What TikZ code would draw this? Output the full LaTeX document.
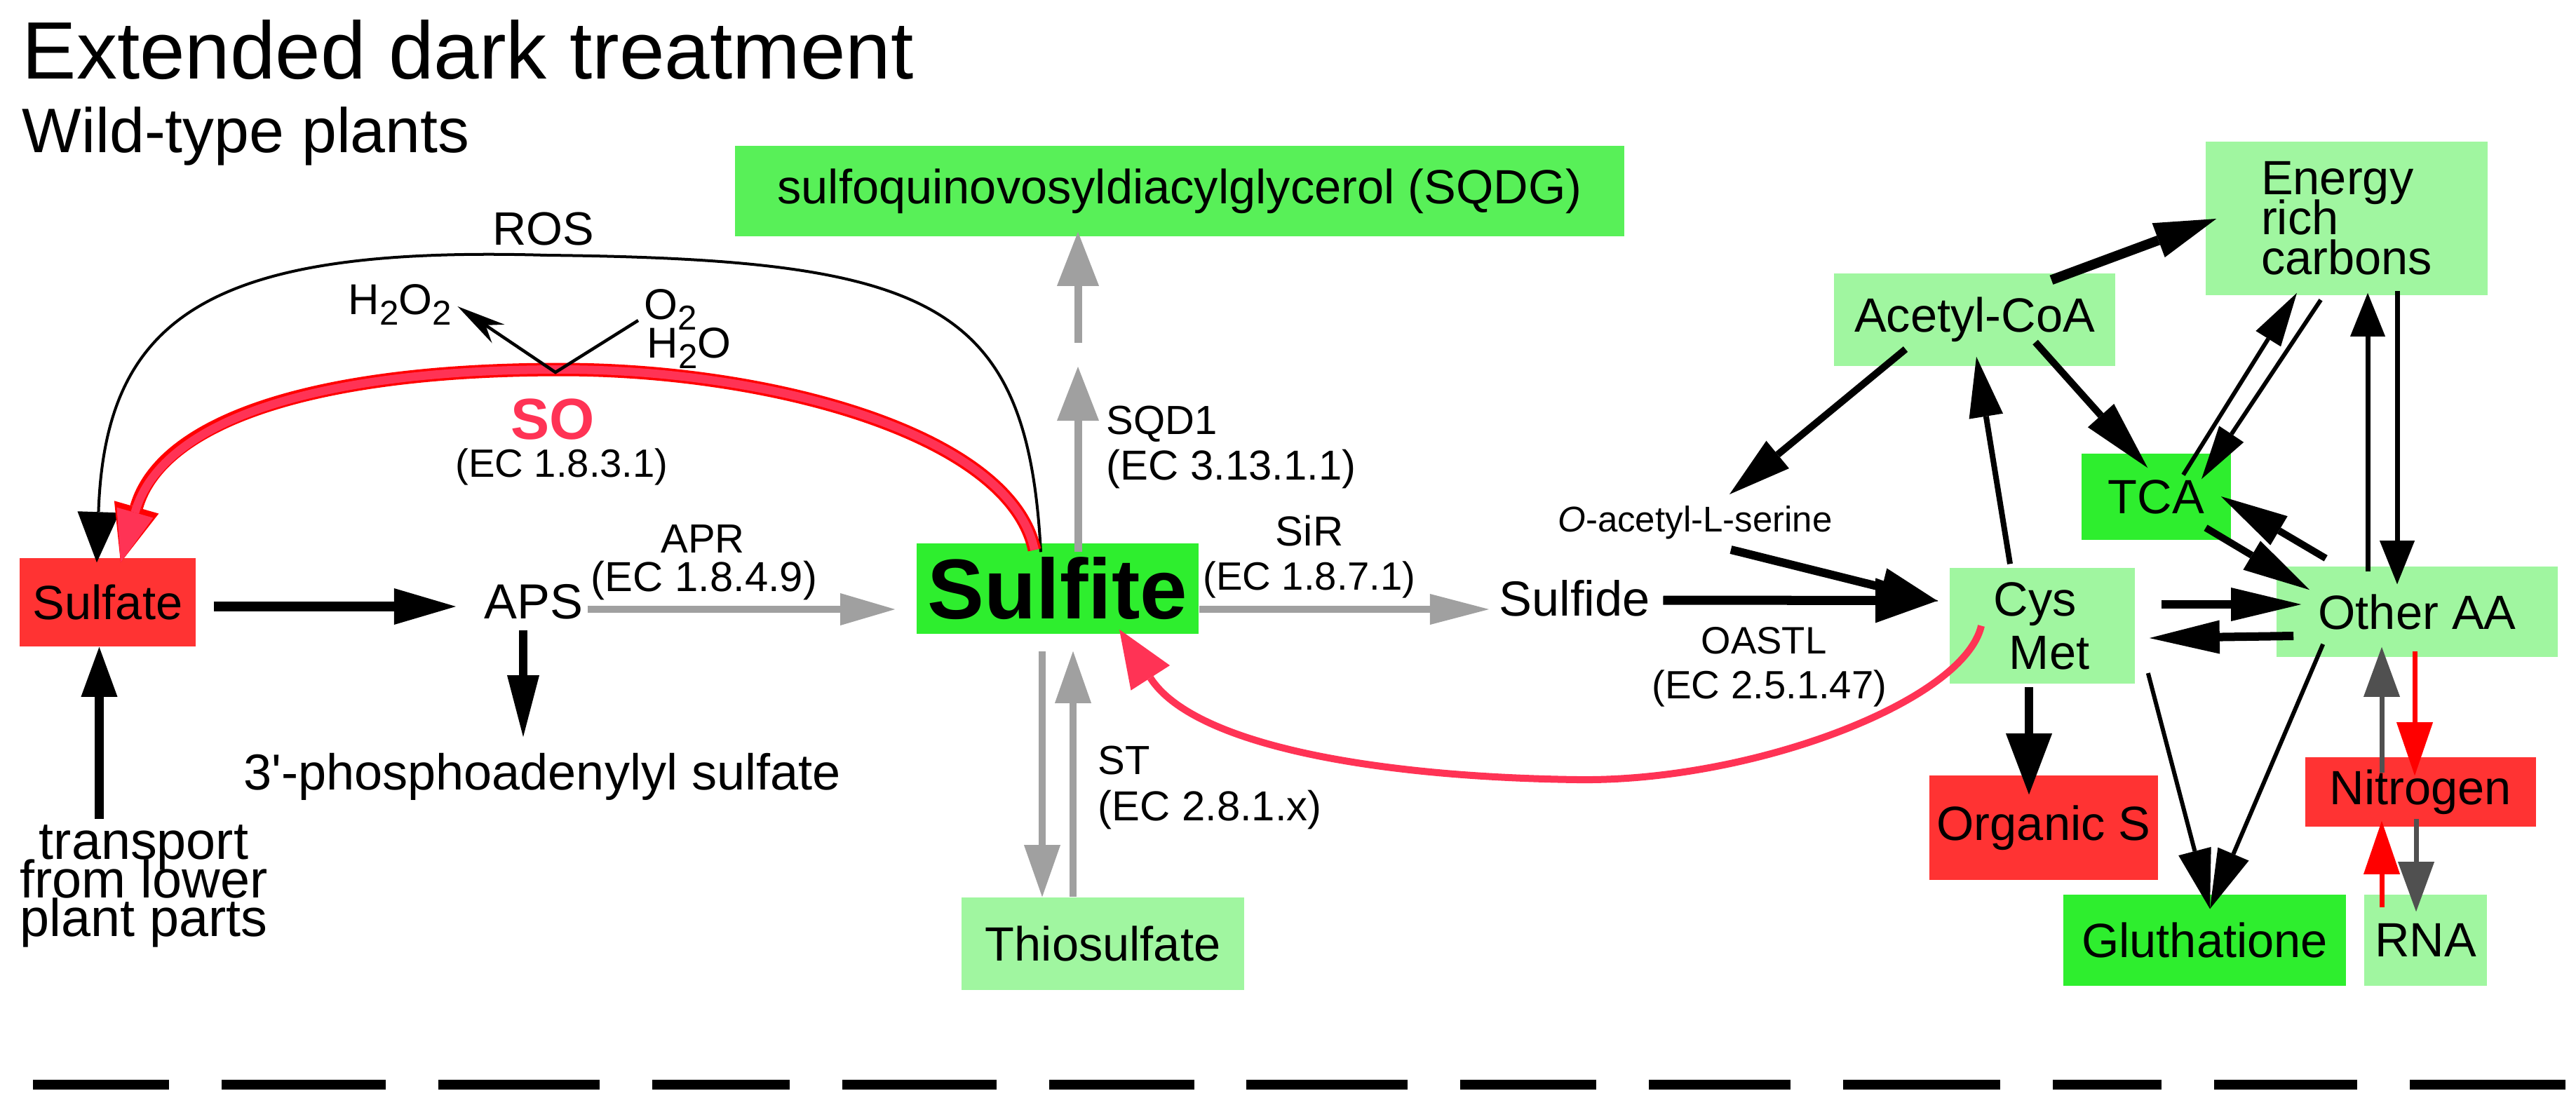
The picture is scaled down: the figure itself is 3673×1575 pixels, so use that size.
\documentclass[tikz,border=0pt]{standalone}
\usepackage{fontspec}
\setmainfont{Liberation Sans}
\usetikzlibrary{arrows.meta,calc}
\lineskiplimit=-100pt
\definecolor{lgreen}{RGB}{160,246,160}
\definecolor{bgreen}{RGB}{46,238,46}
\definecolor{sqgreen}{RGB}{88,240,88}
\definecolor{boxred}{RGB}{255,51,51}
\definecolor{sopink}{RGB}{255,51,85}
\definecolor{lgray}{RGB}{160,160,160}
\definecolor{dgray}{RGB}{80,80,80}
\newcommand\subs[1]{\raisebox{-4.5pt}{\fontsize{14}{14}\selectfont #1}}
\tikzset{
  bx/.style={rectangle, inner sep=0pt, align=center, font=\fontsize{19.5}{23.4}\selectfont},
  txt/.style={inner sep=0pt},
  arr/.style n args={4}{draw=#1, line width=#2, -{Triangle[length=#3,width=#4,line width=0pt]}},
}
\begin{document}
\begin{tikzpicture}[x=0.01cm,y=-0.01cm]
\useasboundingbox (0,0) rectangle (3673,1575);

% titles
\node[txt, anchor=base west, font=\fontsize{33}{40}\selectfont] (title) at (31,112) {Extended dark treatment};
\node[txt, anchor=base west, font=\fontsize{25.5}{30}\selectfont] (subtitle) at (31,217) {Wild-type plants};

% boxes
\node[bx, fill=sqgreen, minimum width=12.68cm, minimum height=1.29cm] (sqdg) at (1682,272.5) {sulfoquinovosyldiacylglycerol (SQDG)};
\node[bx, fill=boxred, minimum width=2.51cm, minimum height=1.26cm] (sulfate) at (153.5,859) {Sulfate};
\node[bx, fill=bgreen, minimum width=4.02cm, minimum height=1.29cm, font=\fontsize{34.5}{40}\selectfont\bfseries] (sulfite) at (1508,839.5) {Sulfite};
\node[bx, fill=lgreen, minimum width=4.03cm, minimum height=1.32cm] (thio) at (1572.5,1346) {Thiosulfate};
\node[bx, fill=lgreen, minimum width=4.01cm, minimum height=1.32cm] (acetyl) at (2815.5,456) {Acetyl-CoA};
\node[bx, fill=lgreen, minimum width=4.02cm, minimum height=2.19cm, align=left, font=\fontsize{19.5}{16.2}\selectfont] (energy) at (3346,311.5) {Energy\\rich\\carbons};
\node[bx, fill=bgreen, minimum width=2.13cm, minimum height=1.23cm] (tca) at (3074.5,708.5) {TCA};
\node[bx, fill=lgreen, minimum width=2.64cm, minimum height=1.65cm, font=\fontsize{19.5}{21.6}\selectfont] (cys) at (2912,892.5) {Cys\kern0.2cm\\\kern0.2cm Met};
\node[bx, fill=lgreen, minimum width=4.01cm, minimum height=1.29cm] (other) at (3446.5,872.5) {Other AA};
\node[bx, fill=boxred, minimum width=3.26cm, minimum height=1.49cm] (orgs) at (2914,1180.5) {Organic S};
\node[bx, fill=boxred, minimum width=3.29cm, minimum height=0.99cm] (nitro) at (3451.5,1129.5) {Nitrogen};
\node[bx, fill=bgreen, minimum width=4.03cm, minimum height=1.30cm] (gluth) at (3143.5,1341) {Gluthatione};
\node[bx, fill=lgreen, minimum width=1.75cm, minimum height=1.30cm] (rna) at (3458.5,1341) {RNA};

% free texts
\node[txt, anchor=base, font=\fontsize{20}{24}\selectfont] (aps) at (761,882) {APS};
\node[txt, anchor=base, font=\fontsize{20.5}{24}\selectfont] (phos) at (773,1126) {3\textquotesingle-phosphoadenylyl sulfate};
\node[txt, align=center, font=\fontsize{21.5}{15.6}\selectfont] (trans) at (205,1264) {transport\\from lower\\plant parts};
\node[txt, anchor=base, font=\fontsize{19}{23}\selectfont] (ros) at (775,349) {ROS};
\node[txt, anchor=base west, font=\fontsize{17.5}{21}\selectfont] (h2o2) at (496,448) {H\subs{2}O\subs{2}};
\node[txt, anchor=base west, font=\fontsize{17.5}{21}\selectfont] (o2) at (918,455) {O\subs{2}};
\node[txt, anchor=base west, font=\fontsize{17.5}{21}\selectfont] (h2o) at (922,510) {H\subs{2}O};
\node[txt, anchor=base, font=\fontsize{23.5}{28}\selectfont\bfseries, text=sopink] (so) at (788,626) {SO};
\node[txt, anchor=base, font=\fontsize{16}{19}\selectfont] (soec) at (801,680) {(EC 1.8.3.1)};
\node[txt, anchor=base, font=\fontsize{16.5}{20}\selectfont] (apr) at (1002,788) {APR};
\node[txt, anchor=base, font=\fontsize{17}{20}\selectfont] (aprec) at (1004,843) {(EC 1.8.4.9)};
\node[txt, anchor=base west, font=\fontsize{16.5}{20}\selectfont] (sqd) at (1577,619) {SQD1};
\node[txt, anchor=base west, font=\fontsize{17}{20}\selectfont] (sqdec) at (1577,684) {(EC 3.13.1.1)};
\node[txt, anchor=base, font=\fontsize{17}{20}\selectfont] (sir) at (1867,778) {SiR};
\node[txt, anchor=base, font=\fontsize{16}{19}\selectfont] (sirec) at (1867,841) {(EC 1.8.7.1)};
\node[txt, anchor=base west, font=\fontsize{16.5}{20}\selectfont] (st) at (1565,1104) {ST};
\node[txt, anchor=base west, font=\fontsize{17}{20}\selectfont] (stec) at (1565,1170) {(EC 2.8.1.x)};
\node[txt, anchor=base west, font=\fontsize{20}{24}\selectfont] (sulfide) at (2137,878) {Sulfide};
\node[txt, anchor=base, font=\fontsize{14.5}{17}\selectfont] (oas) at (2417,758) {\textit{O}-acetyl-L-serine};
\node[txt, anchor=base, font=\fontsize{15.5}{19}\selectfont] (oastl) at (2515,932) {OASTL};
\node[txt, anchor=base, font=\fontsize{16}{19}\selectfont] (oastlec) at (2523,996) {(EC 2.5.1.47)};

% bottom dashed separator
\foreach \a/\b in {47/241, 316/550, 625/855, 930/1126, 1201/1421, 1496/1703, 1777/2007, 2082/2276, 2351/2553, 2628/2852, 2927/3082, 3157/3361, 3436/3658}
  \draw[line width=0.14cm] (\a,1547) -- (\b,1547);

% ROS
\draw[black, line width=0.04cm, -{Triangle[length=0.72cm,width=0.6cm,line width=0pt]}]
  ($(sulfite.north)+(-24,13)$) .. controls (1465,430) and (1330,370) .. (780,364)
  .. controls (300,350) and (150,450) .. ($(sulfate.north)+(-15.5,7)$);

% SO
\draw[red, line width=0.19cm, -{Triangle[length=0.82cm,width=0.66cm,line width=0pt]}]
  ($(sulfite.north)+(-33,10)$) .. controls (1440,620) and (1100,527) .. (800,527)
  .. controls (450,527) and (230,600) .. ($(sulfate.north)+(18.5,7)$);
\draw[sopink, line width=0.12cm, -{Triangle[length=0.74cm,width=0.54cm,line width=0pt]}]
  ($(sulfite.north)+(-33,10)$) .. controls (1440,620) and (1100,527) .. (800,527)
  .. controls (450,527) and (230,600) .. ($(sulfate.north)+(18.5,7)$);

% H2O2 / O2 V
\coordinate (vtx) at (792,531);
\draw[black, line width=0.045cm, -{Stealth[length=0.7cm,width=0.32cm,inset=0.22cm,line width=0pt]}]
  ($(o2.base west)+(-8,2)$) -- (vtx) -- ($(h2o2.base east)+(8,-11)$);

% main line
\draw[arr={black}{0.14cm}{0.88cm}{0.52cm}] ($(sulfate.east)+(25,6)$) -- ($(sulfate.east -| aps.west)+(-40,6)$);
\draw[arr={lgray}{0.1cm}{0.78cm}{0.46cm}] ($(aps.east |- sulfite.west)+(6,29.5)$) -- ($(sulfite.west)+(-30,29.5)$);
\draw[arr={black}{0.12cm}{0.88cm}{0.46cm}] ($(aps.south)+(-15,16)$) -- ($(aps.south |- phos.north)+(-15,-22)$);
\draw[arr={black}{0.12cm}{0.71cm}{0.52cm}] ($(trans.north -| sulfate.south)+(-12,-8)$) -- ($(sulfate.south)+(-12,0)$);

% SQDG
\coordinate (sqgap) at (1537,506);
\draw[arr={lgray}{0.11cm}{0.77cm}{0.6cm}] ($(sulfite.north)+(29,13)$) -- ($(sqgap)+(0,17)$);
\draw[arr={lgray}{0.11cm}{0.77cm}{0.6cm}] ($(sqgap)+(0,-17)$) -- ($(sqdg.south -| sqgap)+(0,-7)$);

% SiR, ST
\draw[arr={lgray}{0.1cm}{0.84cm}{0.44cm}] ($(sulfite.east)+(0,29.5)$) -- ($(sulfide.base west)+(-14,-9)$);
\draw[arr={lgray}{0.1cm}{0.74cm}{0.52cm}] ($(sulfite.south)+(-22,24)$) -- ($(thio.north)+(-86.5,0)$);
\draw[arr={lgray}{0.1cm}{0.74cm}{0.52cm}] ($(thio.north)+(-42.5,0)$) -- ($(sulfite.south)+(22,24)$);

% Cys -> Sulfite (pink)
\draw[sopink, line width=0.1cm, -{Triangle[length=0.82cm,width=0.66cm,line width=0pt]}]
  ($(cys.center)+(-87,0)$) .. controls (2800,1000) and (2500,1115) .. (2250,1112)
  .. controls (1950,1108) and (1700,1060) .. ($(sulfite.south)+(88,-7)$);

% right network
\draw[arr={black}{0.13cm}{0.89cm}{0.64cm}] ($(sulfide.base east)+(18,-22)$) -- ($(cys.west)+(-16,-36)$);
\draw[arr={black}{0.12cm}{0.82cm}{0.56cm}] ($(oas.base)+(51,26)$) -- ($(cys.west)+(-16,-35)$);
\draw[arr={black}{0.1cm}{0.89cm}{0.51cm}] ($(acetyl.center)+(-98.5,42)$) -- ($(oas.base)+(49,-53)$);
\draw[arr={black}{0.08cm}{0.86cm}{0.49cm}] ($(cys.north)+(-46,-5)$) -- ($(acetyl.south)+(2.5,-14)$);
\draw[arr={black}{0.1cm}{1.0cm}{0.5cm}] ($(acetyl.center)+(86.5,32)$) -- ($(tca.north west)+(95,21)$);
\draw[arr={black}{0.14cm}{0.88cm}{0.52cm}] ($(acetyl.north)+(109.5,10)$) -- ($(energy.west)+(16,0.5)$);
\draw[arr={black}{0.06cm}{0.77cm}{0.42cm}] ($(tca.north)+(38.5,31)$) -- ($(energy.south)+(-71,-4)$);
\draw[arr={black}{0.06cm}{0.77cm}{0.42cm}] ($(energy.south)+(-37,6)$) -- ($(tca.north)+(64.5,37)$);
\draw[arr={black}{0.07cm}{0.62cm}{0.5cm}] ($(other.north)+(-70.5,8)$) -- ($(energy.south)+(30,-4)$);
\draw[arr={black}{0.07cm}{0.62cm}{0.5cm}] ($(energy.south)+(72,-7)$) -- ($(other.north)+(-28.5,26)$);
\draw[arr={black}{0.1cm}{0.96cm}{0.48cm}] ($(tca.south)+(70.5,-18)$) -- ($(other.north west)+(48,34)$);
\draw[arr={black}{0.1cm}{0.96cm}{0.48cm}] ($(other.north west)+(71,-11)$) -- ($(tca.east)+(-15,-0.5)$);
\draw[arr={black}{0.12cm}{1.0cm}{0.48cm}] ($(cys.east)+(37,-30.5)$) -- ($(other.west)+(36,-10.5)$);
\draw[arr={black}{0.12cm}{1.0cm}{0.48cm}] ($(other.west)+(25,34.5)$) -- ($(cys.east)+(20,17.5)$);
\draw[arr={black}{0.12cm}{0.87cm}{0.66cm}] ($(cys.south)+(-19,4)$) -- ($(orgs.north)+(-21,28)$);
\draw[arr={black}{0.06cm}{0.85cm}{0.48cm}] ($(cys.east)+(18,67.5)$) -- ($(gluth.north)+(7.5,21)$);
\draw[arr={black}{0.06cm}{0.85cm}{0.48cm}] ($(other.south west)+(67,-19)$) -- ($(gluth.north)+(7.5,21)$);
\draw[arr={red}{0.07cm}{0.76cm}{0.52cm}] ($(other.south)+(-3.5,-9)$) -- ($(nitro.north)+(-8.5,27)$);
\draw[arr={dgray}{0.07cm}{0.71cm}{0.52cm}] ($(nitro.north)+(-55.5,23)$) -- ($(other.south)+(-50.5,-15)$);
\draw[arr={red}{0.07cm}{0.76cm}{0.52cm}] ($(rna.north)+(-62.5,19)$) -- ($(nitro.south)+(-55.5,-9)$);
\draw[arr={dgray}{0.07cm}{0.71cm}{0.52cm}] ($(nitro.south)+(-6.5,-12)$) -- ($(rna.north)+(-13.5,25)$);
\end{tikzpicture}
\end{document}
